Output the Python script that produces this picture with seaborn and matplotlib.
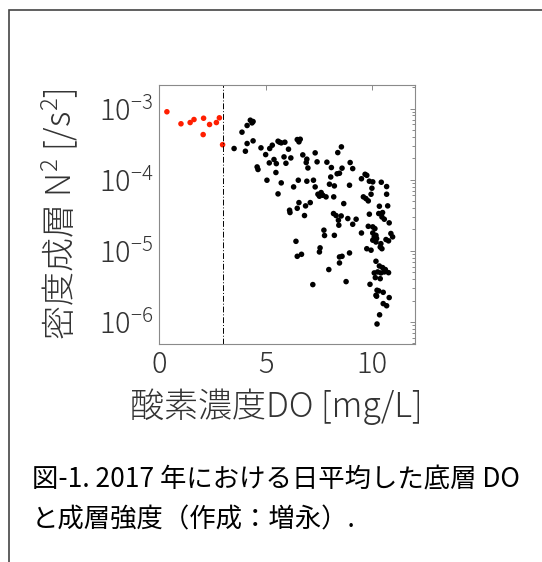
# 底層DO と 成層強度 N^2 の散布図 (2017, 日平均)

import numpy as np
import pandas as pd
import matplotlib
matplotlib.use("Agg")
import matplotlib.pyplot as plt
import seaborn as sns
from matplotlib.patches import Rectangle
from matplotlib.ticker import LogLocator, NullFormatter

# -----------------------------------------------------
# DATA
# -----------------------------------------------------

# DO < 3 mg/L (red)
do_red = [0.37, 1.03, 1.46, 1.64, 2.09, 2.37, 2.69, 2.83, 2.07, 2.98]
n2_red = [9.0e-4, 6.1e-4, 6.35e-4, 7.0e-4, 7.3e-4, 5.96e-4, 6.35e-4, 7.4e-4, 4.3e-4, 3.1e-4]

# DO >= 3 mg/L (black)
do_black = [
    4.28, 4.41, 4.36, 4.13, 3.89, 4.41, 4.13, 3.52, 4.05, 4.78,
    5.19, 5.31, 5.58, 5.65, 5.73, 5.90, 6.48, 6.62, 6.56, 6.07,
    5.00, 5.39, 5.17, 5.50, 5.86, 5.95, 6.18, 6.74, 6.93, 6.90,
    6.98, 7.32, 7.41, 7.87, 8.08, 8.55, 8.38, 8.58, 8.96, 9.08,
    8.35, 8.46, 8.05, 9.49, 9.66, 9.74, 9.86, 10.02, 10.42, 10.67,
    6.53, 6.93, 7.24, 7.32, 7.99, 8.22, 8.93, 9.98, 4.60, 4.64,
    5.06, 5.73, 6.31, 5.58, 6.56, 7.09, 6.87, 6.48, 6.12, 6.14,
    6.82, 6.42, 6.48, 6.68, 7.45, 7.60, 7.68, 7.52, 7.83, 8.19,
    8.66, 9.58, 9.70, 9.81, 9.94, 10.67, 10.33, 10.72, 9.86, 10.48,
    8.18, 8.30, 8.54, 8.41, 8.43, 8.85, 9.24, 9.08, 10.30, 10.45,
    10.56, 10.79, 9.81, 10.02, 10.12, 9.49, 7.73, 7.76, 8.22, 10.87,
    10.95, 10.02, 10.17, 10.09, 10.20, 10.02, 10.17, 10.64, 10.76, 10.40,
    10.37, 10.45, 9.74, 9.94, 7.55, 7.52, 8.93, 8.46, 8.58, 8.46,
    10.17, 10.33, 10.48, 10.61, 7.96, 7.21, 8.77, 10.09, 10.25, 10.40,
    10.56, 10.76, 10.14, 10.37, 9.89, 10.22, 10.30, 10.17, 10.20, 10.51,
    10.79, 10.51, 10.67, 10.34, 10.22, 5.48,
]
n2_black = [
    6.85e-4, 6.56e-4, 6.28e-4, 5.77e-4, 4.65e-4, 3.51e-4, 3.22e-4, 2.74e-4, 2.51e-4, 2.80e-4,
    2.74e-4, 3.05e-4, 3.47e-4, 3.36e-4, 3.29e-4, 3.36e-4, 3.66e-4, 3.70e-4, 3.40e-4, 2.68e-4,
    2.25e-4, 1.92e-4, 1.72e-4, 1.68e-4, 2.09e-4, 1.70e-4, 2.02e-4, 2.23e-4, 1.94e-4, 1.74e-4,
    1.46e-4, 2.38e-4, 1.78e-4, 1.76e-4, 1.48e-4, 2.89e-4, 2.40e-4, 1.45e-4, 1.74e-4, 1.43e-4,
    1.21e-4, 1.23e-4, 1.09e-4, 1.03e-4, 1.19e-4, 1.15e-4, 9.51e-5, 9.31e-5, 9.20e-5, 8.00e-5,
    9.82e-5, 9.51e-5, 9.82e-5, 7.91e-5, 8.63e-5, 8.17e-5, 8.35e-5, 7.58e-5, 1.51e-4, 1.39e-4,
    9.82e-5, 9.01e-5, 7.91e-5, 6.31e-5, 4.76e-5, 4.76e-5, 4.28e-5, 3.96e-5, 3.72e-5, 3.45e-5,
    3.13e-5, 1.36e-5, 8.37e-6, 8.93e-6, 6.24e-5, 6.59e-5, 6.04e-5, 5.85e-5, 5.73e-5, 5.73e-5,
    4.61e-5, 5.73e-5, 5.42e-5, 5.03e-5, 6.24e-5, 6.24e-5, 4.23e-5, 4.28e-5, 3.27e-5, 3.45e-5,
    3.34e-5, 3.13e-5, 3.09e-5, 2.69e-5, 2.29e-5, 2.84e-5, 2.78e-5, 2.36e-5, 3.34e-5, 2.99e-5,
    2.78e-5, 2.47e-5, 2.21e-5, 2.17e-5, 2.05e-5, 1.78e-5, 1.95e-5, 1.64e-5, 1.65e-5, 1.75e-5,
    1.57e-5, 1.78e-5, 1.65e-5, 1.57e-5, 1.49e-5, 1.41e-5, 1.33e-5, 1.44e-5, 1.38e-5, 1.26e-5,
    1.13e-5, 1.07e-5, 1.07e-5, 1.02e-5, 1.10e-5, 9.64e-6, 9.33e-6, 8.20e-6, 8.37e-6, 6.75e-6,
    7.13e-6, 6.12e-6, 5.81e-6, 5.45e-6, 5.45e-6, 3.35e-6, 3.69e-6, 4.89e-6, 5.05e-6, 4.89e-6,
    5.05e-6, 4.93e-6, 4.20e-6, 4.06e-6, 3.38e-6, 2.79e-6, 2.73e-6, 2.37e-6, 2.30e-6, 2.61e-6,
    2.20e-6, 1.81e-6, 1.69e-6, 1.26e-6, 9.36e-7, 1.26e-4,
]

DO_THRESHOLD = 3.0
x_ticks = [0, 5, 10]

caption_1 = "図-1. 2017 年における日平均した底層 DO"
caption_2 = "と成層強度（作成：増永）."

df = pd.DataFrame({
    "DO": do_red + do_black,
    "N2": n2_red + n2_black,
    "group": ["low"] * len(do_red) + ["high"] * len(do_black),
})

# -----------------------------------------------------
# STYLE
# -----------------------------------------------------

sns.set_style("white")
plt.rcParams["font.family"] = ["Noto Sans CJK JP", "DejaVu Sans"]
plt.rcParams["mathtext.default"] = "regular"

TXT = "#333333"
AX_GRAY = "#8a8a8a"

# -----------------------------------------------------
# PLOT
# -----------------------------------------------------

fig = plt.figure(figsize=(5.42, 5.62), dpi=100)
ax = fig.add_axes([159 / 542, 1 - 344 / 562, 256 / 542, 259 / 562])

sns.scatterplot(
    data=df, x="DO", y="N2", hue="group",
    palette={"low": "#ff1e00", "high": "black"},
    s=16, linewidth=0, legend=False, ax=ax,
)

ax.axvline(DO_THRESHOLD, color="black", lw=0.7, ls=(0, (6, 2, 1, 2)))

ax.set_yscale("log")
ax.set_xlim(0, 12)
ax.set_ylim(4.9e-7, 2.14e-3)
ax.set_xticks(x_ticks)
ax.yaxis.set_major_locator(LogLocator(base=10, numticks=10))
ax.yaxis.set_minor_locator(LogLocator(base=10, subs=np.arange(2, 10), numticks=20))
ax.yaxis.set_minor_formatter(NullFormatter())

ax.tick_params(which="both", direction="in", top=True, right=True,
               color=AX_GRAY, labelcolor=TXT, labelsize=21, width=0.7)
ax.tick_params(which="major", length=3.5, pad=4)
ax.tick_params(which="minor", length=2)
for lbl in ax.get_xticklabels() + ax.get_yticklabels():
    lbl.set_fontweight("light")

for sp in ax.spines.values():
    sp.set_color(AX_GRAY)
    sp.set_linewidth(0.8)

ax.set_xlabel("酸素濃度DO [mg/L]", fontsize=24.5, color=TXT, fontweight="light")
ax.xaxis.set_label_coords(0.457, -0.17)
ax.set_ylabel("密度成層 N$^2$ [/s$^2$]", fontsize=24.5, color=TXT, labelpad=13,
              fontweight="light")

# caption
fig.text(32 / 542, 1 - 480 / 562, caption_1, fontsize=19, color="black", va="center")
fig.text(32 / 542, 1 - 520 / 562, caption_2, fontsize=19, color="black", va="center")

# outer frame (open to the right and bottom)
fig.add_artist(Rectangle((9 / 542, -0.5), 2.0, 0.5 + (1 - 10 / 562),
                         transform=fig.transFigure, fill=False,
                         edgecolor="#444444", linewidth=1.2))

fig.savefig("out.png", dpi=100)
